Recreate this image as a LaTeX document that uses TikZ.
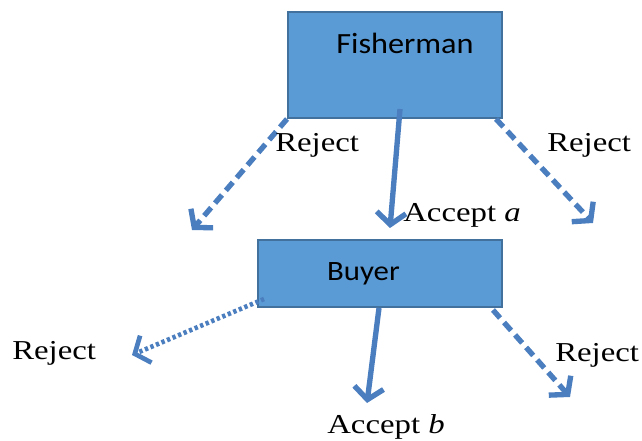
\documentclass[tikz,border=0pt]{standalone}
\usepackage{fontspec}
\setmainfont{Liberation Serif}[FakeStretch=1.2]
\newfontfamily\boxfont{Carlito}[FakeStretch=1.1]
\usetikzlibrary{arrows.meta}

\definecolor{boxfill}{RGB}{91,155,213}
\definecolor{boxline}{RGB}{65,113,156}
\definecolor{arrowcol}{RGB}{74,126,190}

\tikzset{
	player/.style={draw=boxline, fill=boxfill, line width=1.5pt, inner sep=0pt},
	move/.style={draw=arrowcol, line width=4pt, -{Straight Barb[length=9pt,width=22pt]}},
	rejmove/.style={move, dash pattern=on 8pt off 4.5pt},
	dotmove/.style={move, line width=3.5pt, dash pattern=on 2.5pt off 2pt},
	lbl/.style={anchor=base west, inner sep=0pt, font=\fontsize{20.5pt}{24pt}\selectfont}
}

\begin{document}
\begin{tikzpicture}[x=0.75pt, y=-0.75pt]
	\useasboundingbox (0,0) rectangle (642,441);
	\node[player, minimum width=160.5pt, minimum height=79.5pt] at (395,65) (fisher) {};
	\node[player, minimum width=183pt, minimum height=50.25pt] at (380,273.5) (buyer) {};
	\node[anchor=base, inner sep=0pt, font=\boxfont\fontsize{22pt}{26pt}\selectfont] at (405,54) (fishername) {Fisherman};
	\node[anchor=base, inner sep=0pt, font=\boxfont\fontsize{21pt}{25pt}\selectfont] at (363.5,281) (buyername) {Buyer};

	\coordinate (f1) at (192,230);
	\coordinate (f2) at (390,228);
	\coordinate (f3) at (593,223);
	\coordinate (b1) at (132,355);
	\coordinate (b2) at (367,403);
	\coordinate (b3) at (570,397);

	\draw[rejmove] (fisher.south west) -- (f1);
	\draw[move] ([xshift=3.75pt,yshift=7.5pt]fisher.south) -- (f2);
	\draw[rejmove] ([xshift=-5.25pt]fisher.south east) -- (f3);
	\draw[dotmove] ([xshift=5.25pt,yshift=6.75pt]buyer.south west) -- (b1);
	\draw[move] ([xshift=-0.75pt]buyer.south) -- (b2);
	\draw[rejmove] ([xshift=-7.5pt,yshift=-1.5pt]buyer.south east) -- (b3);

	\node[lbl] at (275,152) (rejf1) {Reject};
	\node[lbl] at (547,152) (rejf3) {Reject};
	\node[lbl] at (403,222) (acca) {Accept \textit{a}};
	\node[lbl] at (12,359) (rejb1) {Reject};
	\node[lbl] at (555,362) (rejb3) {Reject};
	\node[lbl] at (327,433) (accb) {Accept \textit{b}};
\end{tikzpicture}
\end{document}
